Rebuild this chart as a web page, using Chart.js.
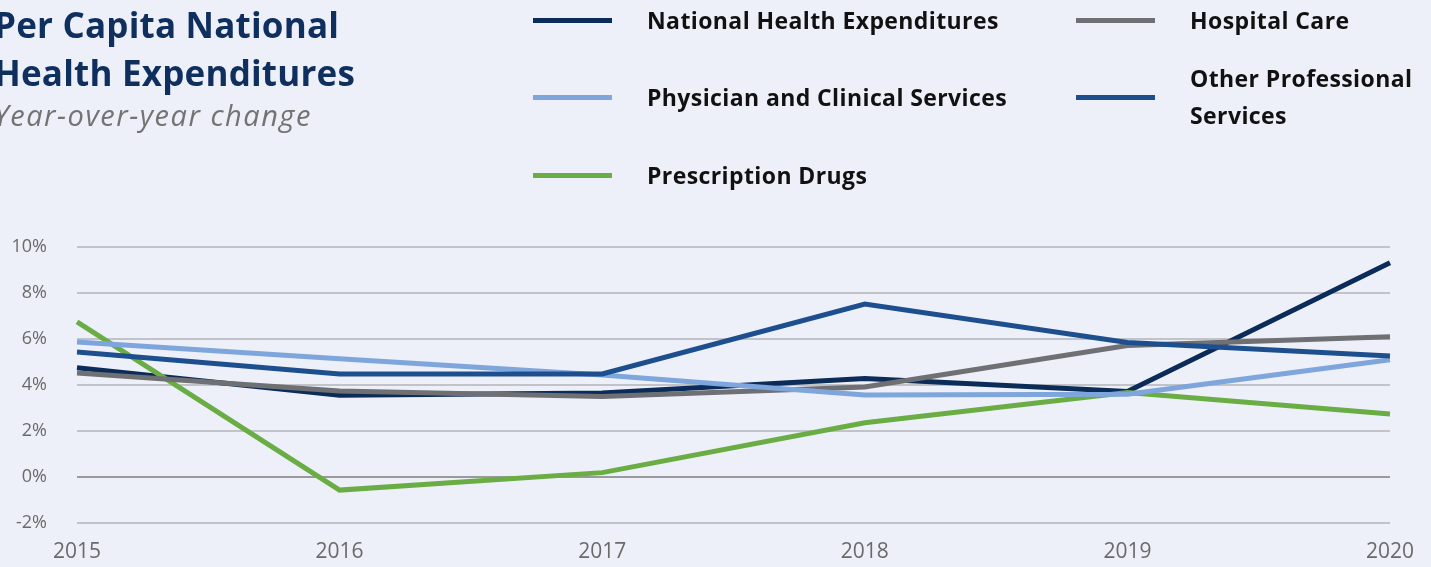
<!DOCTYPE html>
<html>
<head>
<meta charset="utf-8">
<script src="https://cdn.jsdelivr.net/npm/chart.js@4"></script>
<style>
  html, body { margin: 0; padding: 0; background: #eef0f9; }
  #wrap { position: relative; width: 1431px; height: 567px; overflow: hidden; background: #eef0f9; font-family: "Open Sans", Lato, sans-serif; }
  #title { position: absolute; left: -6px; top: 1px; color: #0f2f5e; font-weight: 700; font-size: 35px; line-height: 48px; letter-spacing: 0.2px; }
  #subtitle { position: absolute; left: -6px; top: 95px; color: #737373; font-style: italic; font-weight: 400; font-size: 29px; line-height: 40px; letter-spacing: 1.5px; }
  #legend { position: absolute; left: 0; top: 0; width: 1431px; height: 200px; }
  .li { position: absolute; display: flex; align-items: center; }
  .sw { width: 79px; height: 5px; margin-right: 35px; flex: none; }
  .lt { font-weight: 700; font-size: 23px; line-height: 37px; color: #111; letter-spacing: 0.4px; }
  canvas { position: absolute; left: 0; top: 0; }
</style>
</head>
<body>
<div id="wrap">
  <canvas id="c" width="1431" height="567"></canvas>
  <div id="title">Per Capita National<br>Health Expenditures</div>
  <div id="subtitle">Year-over-year change</div>
  <div id="legend"></div>
</div>
<script>
const years = ["2015", "2016", "2017", "2018", "2019", "2020"];
const yTicks = [-2, 0, 2, 4, 6, 8, 10];
const seriesNames = ["National Health Expenditures", "Hospital Care", "Physician and Clinical Services", "Other Professional\nServices", "Prescription Drugs"];
const nationalHealth = [4.75, 3.55, 3.65, 4.28, 3.72, 9.32];
const hospitalCare = [4.52, 3.74, 3.5, 3.91, 5.72, 6.1];
const physicianClinical = [5.87, 5.14, 4.43, 3.57, 3.6, 5.1];
const otherProfessional = [5.43, 4.48, 4.48, 7.52, 5.85, 5.26];
const prescriptionDrugs = [6.74, -0.57, 0.19, 2.36, 3.67, 2.74];
const seriesColors = ["#0b2c58", "#6f7073", "#7ea6dc", "#1d4f8f", "#6aad45"];

const seriesData = [nationalHealth, hospitalCare, physicianClinical, otherProfessional, prescriptionDrugs];
const drawOrder = [4, 2, 1, 0, 3];

const datasets = seriesData.map((d, i) => ({
  label: seriesNames[i].replace("\n", " "),
  data: d,
  borderColor: seriesColors[i],
  backgroundColor: seriesColors[i],
  borderWidth: 5,
  pointRadius: 0,
  pointHoverRadius: 0,
  tension: 0,
  fill: false,
  order: drawOrder[i]
}));

// HTML legend built from series
const legendPos = [
  {left: 533, cy: 20},
  {left: 1076, cy: 20},
  {left: 533, cy: 97},
  {left: 1076, cy: 97},
  {left: 533, cy: 175}
];
const legend = document.getElementById('legend');
seriesNames.forEach((name, i) => {
  const li = document.createElement('div');
  li.className = 'li';
  const lines = name.split("\n").length;
  const h = lines * 37;
  li.style.left = legendPos[i].left + 'px';
  li.style.top = (legendPos[i].cy - h / 2) + 'px';
  li.style.height = h + 'px';
  const sw = document.createElement('div');
  sw.className = 'sw';
  sw.style.background = seriesColors[i];
  const lt = document.createElement('div');
  lt.className = 'lt';
  lt.innerHTML = name.split("\n").join("<br>");
  li.appendChild(sw);
  li.appendChild(lt);
  legend.appendChild(li);
});

new Chart(document.getElementById('c'), {
  type: 'line',
  data: { labels: years, datasets: datasets },
  options: {
    responsive: false,
    animation: false,
    events: [],
    layout: { padding: { left: 0, right: 41, top: 247, bottom: 0 } },
    plugins: { legend: { display: false }, title: { display: false }, tooltip: { enabled: false } },
    scales: {
      x: {
        type: 'category',
        offset: false,
        afterFit: (s) => { s.height = 44; },
        grid: { display: false, drawTicks: false },
        border: { display: false },
        ticks: { color: '#6a6a6a', font: { family: 'Open Sans', size: 21 }, padding: 16, maxRotation: 0, autoSkip: false }
      },
      y: {
        min: -2, max: 10,
        afterFit: (s) => { s.width = 77; },
        afterBuildTicks: (s) => { s.ticks = yTicks.map(v => ({ value: v })); },
        grid: {
          drawTicks: false,
          lineWidth: 2,
          color: (ctx) => (ctx.tick && ctx.tick.value === 0) ? '#9a9a9a' : '#c2c3c8'
        },
        border: { display: false },
        ticks: { color: '#6a6a6a', font: { family: 'Open Sans', size: 18 }, padding: 30, stepSize: 2, callback: (v) => v + '%' }
      }
    }
  }
});
</script>
</body>
</html>
